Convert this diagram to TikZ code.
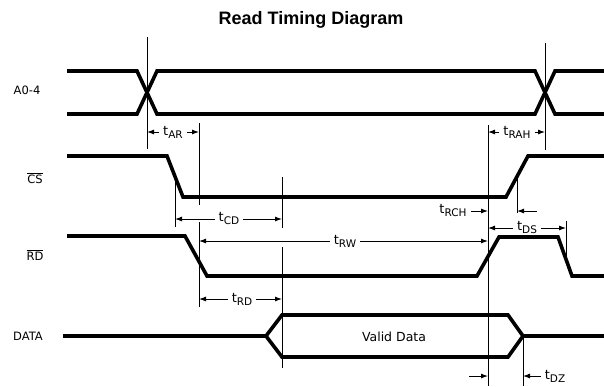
\documentclass[tikz,border=0pt]{standalone}
\usepackage{fontspec}
\setmainfont{Liberation Sans}
\newfontfamily\labfont{DejaVu Sans}
\usetikzlibrary{arrows.meta, calc}

\newcommand{\tlab}[1]{t\raisebox{-3pt}{\fontsize{10.5}{12}\selectfont #1}}

\begin{document}
\begin{tikzpicture}[x = 1pt, y = -1pt,
    sig/.style = {line width = 3.6pt, line join = miter},
    tick/.style = {line width = 0.9pt},
    dim/.style = {-{Latex[length = 7pt, width = 5pt]}, line width = 0.9pt},
    lab/.style = {font = \labfont\fontsize{11.5}{14}\selectfont},
    tl/.style = {font = \labfont\fontsize{13}{15}\selectfont, inner xsep = 4pt, inner ysep = 0pt}]
    \useasboundingbox (0,0) rectangle (604,386);
    \node (title) at (311,20) {\fontsize{18}{20}\selectfont\bfseries Read Timing Diagram};

    \node [lab] (la) at (27,90) {A0-4};
    \node [lab] (lcs) at (35,178) {$\overline{\mbox{CS}}$};
    \node [lab] (lrd) at (35,255) {$\overline{\mbox{RD}}$};
    \node [lab] (ldata) at (28,336) {DATA};

    \draw [sig] (67,71) -- (137,71) -- (157,114) -- (535,114) -- (555,71) -- (604,71);
    \draw [sig] (67,114) -- (137,114) -- (157,71) -- (535,71) -- (555,114) -- (604,114);
    \draw [sig] (67,156) -- (167,156) -- (183,197) -- (506,197) -- (528,156) -- (604,156);
    \draw [sig] (67,236) -- (185,236) -- (207,276) -- (477,276) -- (499,237) -- (558,237) -- (572,276) -- (604,276);
    \draw [sig] (63,336) -- (266,336) -- (282,315) -- (508,315) -- (523,336) -- (604,336);
    \draw [sig] (266,336) -- (282,357) -- (508,357) -- (523,336);
    \node [lab, font = \labfont\fontsize{12.5}{15}\selectfont] (valid) at (394,337) {Valid Data};

    \coordinate (ca) at (147,37);
    \coordinate (cb) at (545,43);
    \coordinate (csf) at (175,177);
    \coordinate (ar) at (199,123);
    \coordinate (rdf) at (199,222);
    \coordinate (cd) at (282,177);
    \coordinate (dv) at (282,247);
    \coordinate (rh) at (488,125);
    \coordinate (csr) at (517,177);
    \coordinate (rdr) at (566,221);
    \coordinate (dz) at (523,336);
    \draw [tick] (ca) -- ++(0,112);
    \draw [tick] (cb) -- ++(0,107);
    \draw [tick] (csf) -- ++(0,50);
    \draw [tick] (ar) -- ++(0,82);
    \draw [tick] (rdf) -- ++(0,85);
    \draw [tick] (cd) -- ++(0,51);
    \draw [tick] (dv) -- ++(0,121);
    \draw [tick] (rh) -- ++(0,261);
    \draw [tick] (csr) -- ++(0,36);
    \draw [tick] (rdr) -- ++(0,37);
    \draw [tick] (dz) -- ++(0,50);

    \node [tl] (tar) at (173,132) {\tlab{AR}};
    \draw [dim] (tar.west) -- (tar.west -| ca);
    \draw [dim] (tar.east) -- (tar.east -| ar);
    \node [tl] (trah) at (517,132) {\tlab{RAH}};
    \draw [dim] (trah.west) -- (trah.west -| rh);
    \draw [dim] (trah.east) -- (trah.east -| cb);
    \node [tl] (tcd) at (229,219) {\tlab{CD}};
    \draw [dim] (tcd.west) -- (tcd.west -| csf);
    \draw [dim] (tcd.east) -- (tcd.east -| cd);
    \node [tl] (trw) at (345,241) {\tlab{RW}};
    \draw [dim] (trw.west) -- (trw.west -| rdf);
    \draw [dim] (trw.east) -- (trw.east -| rh);
    \node [tl] (trd) at (242,299) {\tlab{RD}};
    \draw [dim] (trd.west) -- (trd.west -| rdf);
    \draw [dim] (trd.east) -- (trd.east -| dv);
    \node [tl] (trch) at (453,211) {\tlab{RCH}};
    \draw [dim] (trch.east) -- (trch.east -| rh);
    \coordinate (rchr) at (537,211);
    \draw [dim] (rchr) -- (rchr -| csr);
    \node [tl] (tds) at (527,228) {\tlab{DS}};
    \draw [dim] (tds.west) -- (tds.west -| rh);
    \draw [dim] (tds.east) -- (tds.east -| rdr);
    \node [tl] (tdz) at (555,376) {\tlab{DZ}};
    \draw [dim] (tdz.west) -- (tdz.west -| dz);
    \coordinate (dzl) at (469,376);
    \draw [dim] (dzl) -- (dzl -| rh);
\end{tikzpicture}
\end{document}
